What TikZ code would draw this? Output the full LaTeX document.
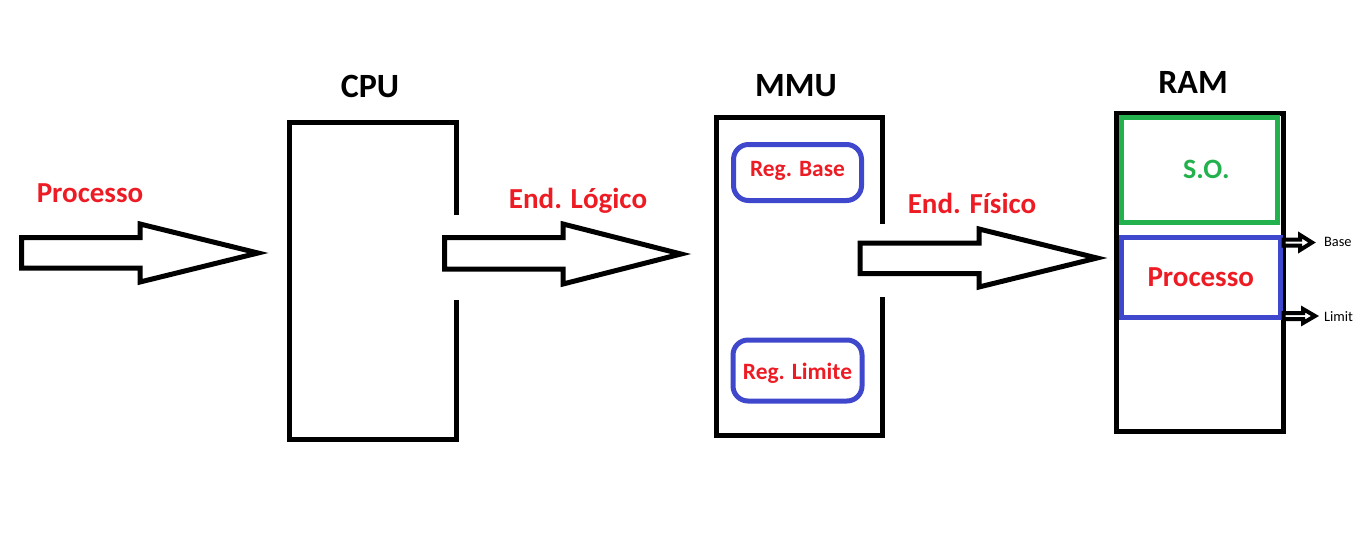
\documentclass[tikz,border=0pt]{standalone}
\usepackage{fontspec}
\setmainfont{Carlito}
\definecolor{pRed}{RGB}{237,28,36}
\definecolor{pBlue}{RGB}{63,72,204}
\definecolor{pGreen}{RGB}{34,177,76}

\begin{document}
\begin{tikzpicture}[x=0.5pt,y=-0.5pt]
    \tikzstyle{box}=[draw,line width=2.5pt,inner sep=0pt,outer sep=0pt];
    \tikzstyle{title}=[font=\fontsize{17}{20}\selectfont\bfseries,anchor=base];
    \tikzstyle{tag}=[text=pRed,font=\fontsize{14.5}{17}\selectfont\bfseries,anchor=base];
    \tikzstyle{reg}=[draw=pBlue,line width=2.5pt,rounded corners=7.5pt,inner sep=0pt,text=pRed,font=\fontsize{11.7}{14}\selectfont\bfseries];
    \tikzstyle{fat}=[draw,line width=2.5pt,fill=white];
    \tikzstyle{small}=[draw,line width=2pt,fill=white];
    \tikzstyle{note}=[font=\fontsize{7.2}{8}\selectfont,anchor=base west];

    \useasboundingbox (0,0) rectangle (1353,558);

    % titles and labels
    \node (cpuTitle) [title] at (370,97) {CPU};
    \node (mmuTitle) [title] at (796,96) {MMU};
    \node (ramTitle) [title] at (1193,93) {RAM};
    \node (procTag) [tag] at (90,202) {Processo};
    \node (logTag) [tag] at (578,208) {End. Lógico};
    \node (fisTag) [tag] at (972,213) {End. Físico};

    % CPU and MMU, open on the right
    \draw[box] (456.5,215) -- (456.5,122) -- (289.5,122) -- (289.5,439.5)
    -- (456.5,439.5) -- (456.5,300);
    \draw[box] (882.5,224) -- (882.5,117.5) -- (716,117.5) -- (716,435.5)
    -- (882.5,435.5) -- (882.5,297);

    \node (regBase) [reg,minimum width=64pt,minimum height=28pt,
    text height=6pt,text depth=2.5pt] at (797.5,172.5) {Reg. Base};
    \node (regLim) [reg,minimum width=64.5pt,minimum height=30.5pt,
    text height=8.5pt,text depth=0pt] at (797.5,370.5) {Reg. Limite};

    % RAM
    \node (ram) [box,minimum width=83.5pt,minimum height=158.75pt]
    at (1200,272.25) {};
    \node (so) [box,draw=pGreen,minimum width=78.25pt,minimum height=52.25pt,
    label={[text=pGreen,font=\fontsize{14}{17}\selectfont\bfseries,
    xshift=3.5pt]center:S.O.}] at (1199.25,169.75) {};
    \node (proc) [box,draw=pBlue,text=pRed,minimum width=79.75pt,
    minimum height=40pt,font=\fontsize{14.5}{17}\selectfont\bfseries]
    at (1200.75,277.5) {Processo};

    % big arrows
    \draw[fat] (21.5,237.5) -- (140,237.5) -- (140,224) -- (258,253)
    -- (140,282) -- (140,268) -- (21.5,268) -- cycle;
    \draw[fat] (444.5,237.5) -- (563,237.5) -- (563,224) -- (681,254)
    -- (563,284) -- (563,269) -- (444.5,269) -- cycle;
    \draw[fat] (860,243) -- (979,243) -- (979,229) -- (1097,258)
    -- (979,287) -- (979,273.5) -- (860,273.5) -- cycle;

    % base and limit
    \draw[small] (1283.5,239.5) -- (1300,239.5) -- (1300,235) -- (1312,242.5)
    -- (1300,250) -- (1300,245.5) -- (1283.5,245.5) -- cycle;
    \draw[small] (1283.5,313) -- (1303,313) -- (1303,309) -- (1315,316)
    -- (1303,323) -- (1303,319) -- (1283.5,319) -- cycle;
    \node (baseNote) [note] at (1317,246) {Base};
    \node (limNote) [note] at (1317,321) {Limit};
\end{tikzpicture}
\end{document}
